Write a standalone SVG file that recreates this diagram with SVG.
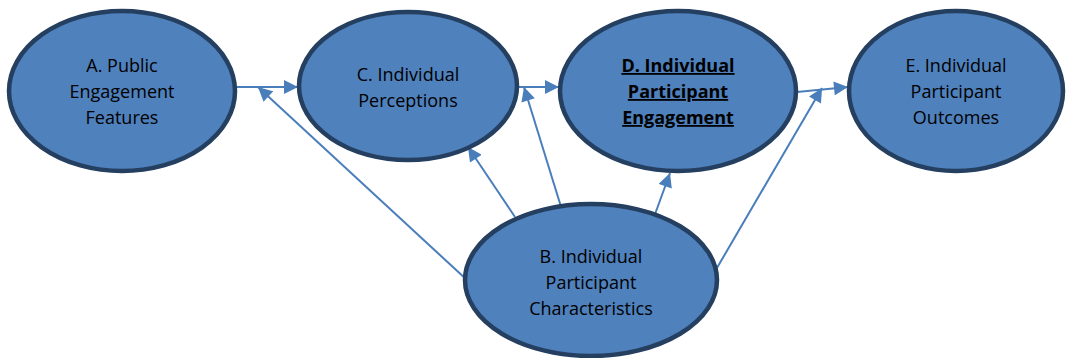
<svg xmlns="http://www.w3.org/2000/svg" width="1070" height="358" viewBox="0 0 1070 358">
<style>
.node ellipse{fill:#4F81BD;stroke:#243F60;stroke-width:4.5}
.node text{font-family:"Open Sans","Liberation Sans",sans-serif;font-size:18px;fill:#000;text-anchor:middle}
.node text.b{font-weight:bold;text-decoration:underline}
.conn line{stroke:#4A7EBB;stroke-width:2;marker-end:url(#ah)}
</style>
<defs>
<marker id="ah" viewBox="0 0 10 10" refX="10" refY="5" markerWidth="7.5" markerHeight="7" orient="auto" markerUnits="strokeWidth">
<path d="M0,0 L10,5 L0,10 z" fill="#4A7EBB"/>
</marker>
</defs>
<rect width="1070" height="358" fill="#fff"/>
<g id="connectors" class="conn">
<line x1="236" y1="87" x2="298" y2="87"/>
<line x1="518" y1="87" x2="559" y2="87"/>
<line x1="797" y1="92" x2="848" y2="87"/>
<line x1="467" y1="280" x2="258" y2="87"/>
<line x1="562" y1="210" x2="524" y2="87"/>
<line x1="515" y1="217" x2="468" y2="147"/>
<line x1="654" y1="217" x2="670" y2="173"/>
<line x1="707" y1="285" x2="822" y2="88"/>
</g>
<g id="nodeA" class="node">
<ellipse cx="122" cy="91" rx="113" ry="80"/>
<text x="122" y="72">A. Public</text>
<text x="122" y="98">Engagement</text>
<text x="122" y="124">Features</text>
</g>
<g id="nodeC" class="node">
<ellipse cx="408" cy="86" rx="109" ry="74"/>
<text x="408" y="81">C. Individual</text>
<text x="408" y="107">Perceptions</text>
</g>
<g id="nodeD" class="node">
<ellipse cx="678" cy="91" rx="118" ry="80"/>
<text class="b" x="678" y="72">D. Individual</text>
<text class="b" x="678" y="98">Participant</text>
<text class="b" x="678" y="124">Engagement</text>
</g>
<g id="nodeE" class="node">
<ellipse cx="956" cy="91" rx="107" ry="80"/>
<text x="956" y="72">E. Individual</text>
<text x="956" y="98">Participant</text>
<text x="956" y="124">Outcomes</text>
</g>
<g id="nodeB" class="node">
<ellipse cx="591" cy="280" rx="126" ry="76"/>
<text x="591" y="263">B. Individual</text>
<text x="591" y="289">Participant</text>
<text x="591" y="315">Characteristics</text>
</g>
</svg>
